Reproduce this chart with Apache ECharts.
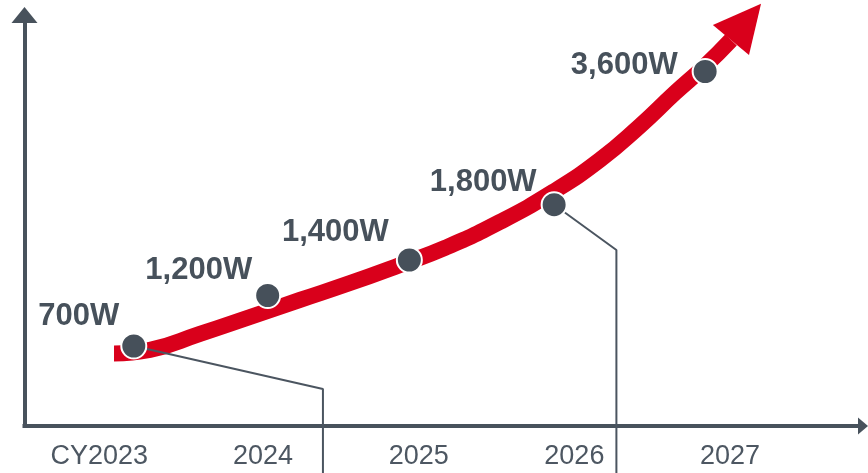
<!DOCTYPE html>
<html>
<head>
<meta charset="utf-8">
<script src="https://cdn.jsdelivr.net/npm/echarts@6/dist/echarts.min.js"></script>
<style>
html, body { margin: 0; padding: 0; background: #ffffff; }
#chart { width: 868px; height: 473px; }
</style>
</head>
<body>
<div id="chart"></div>
<script>
// Year ticks along the timeline
const tickYears = [2023, 2024, 2025, 2026, 2027];
const tickLabels = ['CY2023', '2024', '2025', '2026', '2027'];

// Power milestones: when each one lands and its wattage
const pointYears = [2023.17, 2024.03, 2024.94, 2025.87, 2026.84];
const powerWatts = [700, 1200, 1400, 1800, 3600];

// Centre line of the red trend arrow (year, watts)
const trendYears = [2023.043, 2023.274, 2023.595, 2023.917, 2024.238, 2024.559, 2024.88,
  2025.169, 2025.522, 2025.863, 2026.164, 2026.421, 2026.646, 2026.839, 2027.006];
const trendWatts = [658, 678, 768, 1079, 1175, 1270, 1372,
  1468, 1703, 1872, 2052, 3293, 3479, 3631, 3778];

// Leader lines dropping from the 700W and 1,800W milestones
const calloutFrom = [0, 3];
const calloutYears = [2024.385, 2026.27];
const calloutKneeWatts = [458, 1456];
const calloutFootWatts = [-150, -150];

// Wattage scale: compressed stretches keep the curve readable
const yBreaks = [
  { start: 850, end: 1065.5, gap: 0 },
  { start: 1500, end: 1588.5, gap: 0 },
  { start: 2200, end: 3249.6, gap: 0 }
];

const FONT = "'Liberation Sans', Arial, Helvetica, sans-serif";
const INK = '#47515b';
const AXIS = '#48525c';
const RED = '#d9001b';

// per-label nudges [dx, dy] from the default left-of-marker spot
const labelNudge = [[0, -30], [-1, -25], [-6, -28], [-3, -22], [-13, -6]];

const chart = echarts.init(document.getElementById('chart'), null, { renderer: 'canvas' });

const pointData = pointYears.map((yr, i) => ({
  value: [yr, powerWatts[i]],
  label: { offset: labelNudge[i] }
}));

const calloutSeries = calloutFrom.map((idx, k) => ({
  type: 'line',
  xAxisIndex: 0,
  yAxisIndex: 1,
  data: [
    [pointYears[idx], powerWatts[idx]],
    [calloutYears[k], calloutKneeWatts[k]],
    [calloutYears[k], calloutFootWatts[k]]
  ],
  showSymbol: false,
  symbol: 'none',
  clip: false,
  silent: true,
  z: 3,
  lineStyle: { color: '#4b5560', width: 2 }
}));

const lastIdx = trendYears.length - 1;

const option = {
  animation: false,
  backgroundColor: '#ffffff',
  grid: { left: 24.5, right: 5, top: 15, bottom: 47 },
  xAxis: {
    type: 'value',
    min: 2022.468,
    max: 2027.854,
    axisLine: {
      show: true,
      onZero: false,
      symbol: ['none', 'triangle'],
      symbolSize: [17, 10],
      lineStyle: { color: AXIS, width: 4, cap: 'square' }
    },
    axisTick: { show: false },
    splitLine: { show: false },
    axisLabel: {
      customValues: tickYears,
      margin: 17,
      color: '#4d5762',
      fontSize: 27,
      fontFamily: FONT,
      formatter: function (v) {
        const i = tickYears.indexOf(Math.round(v));
        const t = tickLabels[i];
        return i === 0 ? '{cy|' + t + '}' : t;
      },
      rich: {
        cy: { fontSize: 27, fontFamily: FONT, color: '#4d5762', padding: [0, 16, 0, 0] }
      }
    }
  },
  yAxis: [
    {
      type: 'value',
      min: 0,
      max: 1,
      axisLine: {
        show: true,
        onZero: false,
        symbol: ['none', 'triangle'],
        symbolSize: [26, 16],
        lineStyle: { color: AXIS, width: 4, cap: 'square' }
      },
      axisTick: { show: false },
      axisLabel: { show: false },
      splitLine: { show: false }
    },
    {
      type: 'value',
      show: false,
      min: 249.3,
      max: 3918.3,
      breaks: yBreaks,
      breakArea: { show: false },
      splitLine: { show: false },
      axisLabel: { show: false }
    }
  ],
  series: [
    {
      name: 'trend',
      type: 'line',
      xAxisIndex: 0,
      yAxisIndex: 1,
      data: trendYears.map((yr, i) => [yr, trendWatts[i]]),
      smooth: 0.5,
      showSymbol: false,
      symbol: 'none',
      clip: false,
      silent: true,
      z: 2,
      lineStyle: { color: RED, width: 16, cap: 'butt', join: 'round' }
    },
    {
      name: 'arrowhead',
      type: 'scatter',
      xAxisIndex: 0,
      yAxisIndex: 1,
      data: [[trendYears[lastIdx], trendWatts[lastIdx]]],
      symbol: 'triangle',
      symbolSize: [47, 47],
      symbolRotate: -39.8,
      symbolOffset: [15, -18],
      clip: false,
      silent: true,
      z: 2,
      itemStyle: { color: RED, opacity: 1 }
    },
    ...calloutSeries,
    {
      name: 'milestones',
      type: 'scatter',
      xAxisIndex: 0,
      yAxisIndex: 1,
      data: pointData,
      symbol: 'circle',
      symbolSize: 25,
      clip: false,
      z: 5,
      itemStyle: { color: '#46505a', borderColor: '#ffffff', borderWidth: 2, opacity: 1 },
      label: {
        show: true,
        position: 'left',
        distance: 1,
        color: INK,
        fontSize: 31,
        fontWeight: 'bold',
        fontFamily: FONT,
        formatter: function (p) {
          return p.value[1].toLocaleString('en-US') + 'W';
        }
      }
    }
  ]
};

chart.setOption(option);
</script>
</body>
</html>
